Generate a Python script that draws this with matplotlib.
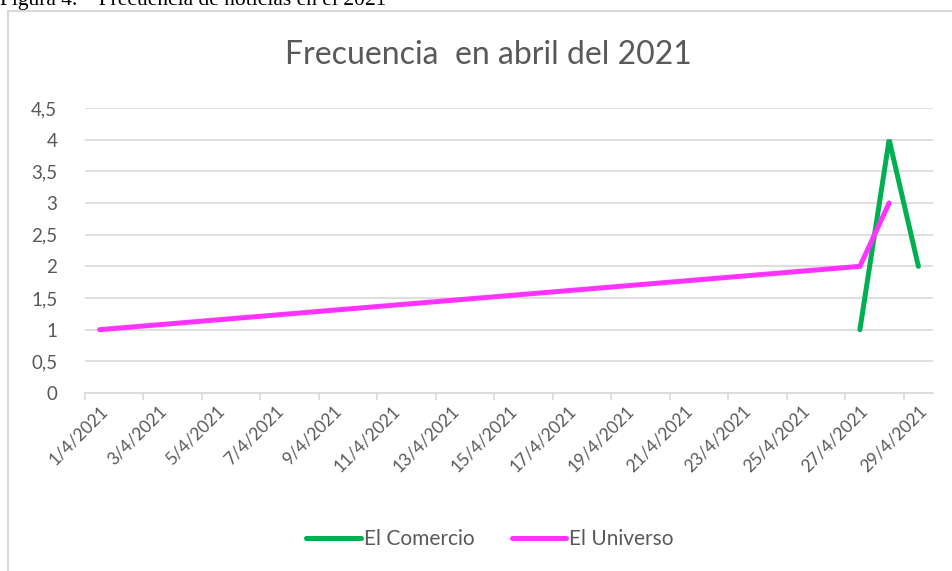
import matplotlib
matplotlib.use("Agg")
import matplotlib.pyplot as plt
import matplotlib.dates as mdates
import pandas as pd
from matplotlib.lines import Line2D

# data
comercio_dates = ["2021-04-27", "2021-04-28", "2021-04-29"]
comercio_vals = [1, 4, 2]
universo_dates = ["2021-04-01", "2021-04-27", "2021-04-28"]
universo_vals = [1, 2, 3]

y_ticks = [0, 0.5, 1, 1.5, 2, 2.5, 3, 3.5, 4, 4.5]
label_dates = pd.date_range("2021-04-01", "2021-04-29", freq="2D")

GREEN = "#00B050"
MAGENTA = "#FF33FF"
GRID = "#d9d9d9"
TXT = "#595959"
FONT = "Lato"

fig = plt.figure(figsize=(9.52, 5.71), dpi=100)
ax = fig.add_axes([85 / 952, 1 - 393 / 571, 848 / 952, 285 / 571])

c_x = mdates.date2num(pd.to_datetime(comercio_dates))
u_x = mdates.date2num(pd.to_datetime(universo_dates))
ax.plot(c_x, comercio_vals, color=GREEN, lw=3.6, solid_capstyle="round",
        solid_joinstyle="miter", zorder=3)
ax.plot(u_x, universo_vals, color=MAGENTA, lw=3.6, solid_capstyle="round",
        solid_joinstyle="miter", zorder=4)

start = mdates.date2num(pd.Timestamp("2021-04-01"))
ax.set_xlim(start - 0.5, start + 28.5)
ax.set_ylim(0, 4.5)

ax.set_yticks(y_ticks)
ax.set_yticklabels([f"{v:g}".replace(".", ",") for v in y_ticks],
                   fontsize=13.5, color=TXT, family=FONT)
ax.yaxis.grid(True, color=GRID, lw=1.2)
ax.set_axisbelow(True)
ax.tick_params(axis="y", length=0, pad=20)

lab_x = mdates.date2num(label_dates)
ax.set_xticks(lab_x)
ax.set_xticklabels([f"{d.day}/{d.month}/{d.year}" for d in label_dates],
                   rotation=45, ha="right", rotation_mode="anchor",
                   fontsize=12.5, color=TXT, family=FONT)
ax.tick_params(axis="x", length=0, pad=7)
# tick marks sit between the labels, like the original
ax.set_xticks(lab_x - 0.5, minor=True)
ax.tick_params(axis="x", which="minor", length=5, color=GRID, width=1.2)

for s in ["top", "right", "left"]:
    ax.spines[s].set_visible(False)
ax.spines["bottom"].set_color(GRID)
ax.spines["bottom"].set_linewidth(1.2)

fig.text(488 / 952, 1 - 55 / 571, "Frecuencia  en abril del 2021",
         ha="center", va="center", fontsize=23, color=TXT, family=FONT)

# chart frame and caption (caption is cropped at the top in the original)
fig.add_artist(Line2D([8 / 952, 8 / 952], [0, 1 - 11 / 571], color=GRID, lw=1.5))
fig.add_artist(Line2D([8 / 952, 1], [1 - 11 / 571, 1 - 11 / 571], color=GRID, lw=1.5))
fig.text(0, 1 - 5 / 571, "Figura 4.    Frecuencia de noticias en el 2021",
         ha="left", va="baseline", fontsize=15.5, color="black",
         family="Liberation Serif")

handles = [Line2D([], [], color=GREEN, lw=3.6, solid_capstyle="round"),
           Line2D([], [], color=MAGENTA, lw=3.6, solid_capstyle="round")]
fig.legend(handles, ["El Comercio", "El Universo"], loc="center",
           bbox_to_anchor=(490 / 952, 1 - 539 / 571), ncol=2, frameon=False,
           prop={"family": FONT, "size": 15}, labelcolor=TXT,
           handlelength=2.6, handletextpad=0.15, columnspacing=1.8)

fig.savefig("out.png", dpi=100)
